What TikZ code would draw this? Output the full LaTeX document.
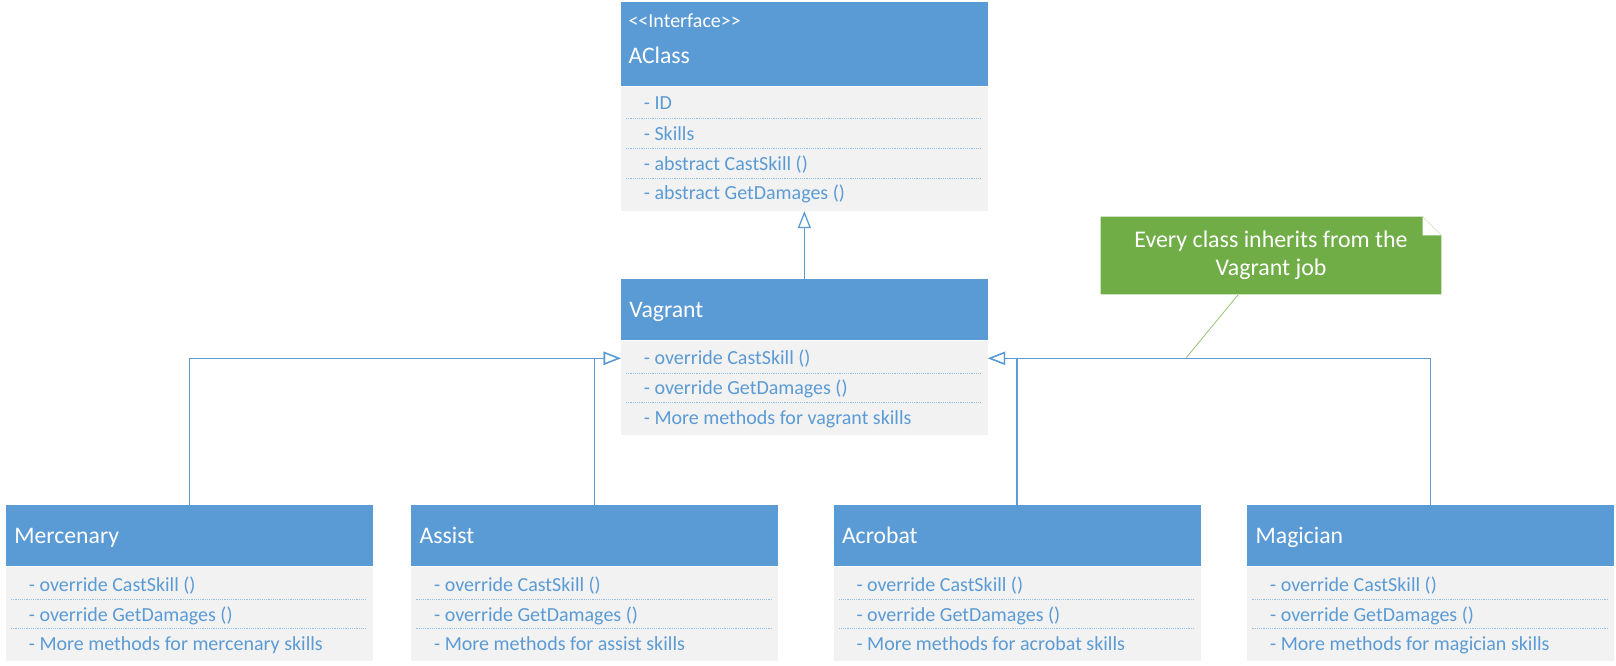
\documentclass[tikz,border=0pt]{standalone}
\usepackage{fontspec}
\setmainfont{Carlito}
\usetikzlibrary{calc,arrows.meta}
\definecolor{hdblue}{HTML}{5B9BD5}
\definecolor{bodygray}{HTML}{F2F2F2}
\definecolor{notegreen}{HTML}{70AD47}

\begin{document}
\begin{tikzpicture}
      [x=1pt,y=-1pt
    % эти стили задают вид классов
      ,head/.style={fill=hdblue,text=white,anchor=north west,minimum width=367pt,minimum height=61pt,text width=350pt,text height=21pt,text depth=5pt,inner xsep=8.5pt,inner ysep=0pt,align=left,font=\fontsize{23.7}{28.3}\selectfont}
      ,body/.style={fill=bodygray,anchor=north west,minimum width=367pt,minimum height=94pt,inner sep=0pt}
      ,row/.style={anchor=west,inner sep=0pt,text height=17pt,text depth=4.3pt,text=hdblue,font=\fontsize{20}{23}\selectfont}
      ,sep/.style={draw=hdblue!65,line width=1pt,dash pattern=on 1.2pt off 1pt}
      ,inherit/.style={draw=hdblue,line width=1.3pt,-{Triangle[open,length=17pt,width=13pt]}}
      ,notetext/.style={text=white,align=center,minimum width=340.6pt,minimum height=77.6pt,inner sep=0pt,font=\fontsize{23.9}{28.3}\selectfont}
      ]
        \useasboundingbox (0,0) rectangle (1616,666);

    % интерфейс
        \coordinate (A) at (620.7,1.7);
        \node[head,minimum height=84.3pt] (aclass) at (A) {};
        \node[row,text=white] (aclass-st) at ($(A)+(7.6,19.3)$) {{<}{<}Interface{>}{>}};
        \node[row,text=white,text height=21pt,text depth=5pt,font=\fontsize{23.7}{28.3}\selectfont] (aclass-t) at ($(A)+(7.6,54.3)$) {AClass};
        \node[body,minimum height=124.3pt] (aclass-b) at (aclass.south west) {};
        \node[row] (aclass-r1) at ($(A)+(23,101.3)$) {- ID};
        \node[row] (aclass-r2) at ($(A)+(23,132.3)$) {- Skills};
        \node[row] (aclass-r3) at ($(A)+(23,162.3)$) {- abstract CastSkill ()};
        \node[row] (aclass-r4) at ($(A)+(23,191.3)$) {- abstract GetDamages ()};
        \draw[sep] ($(A)+(5.3,116.6)$) -- +(355.7,0);
        \draw[sep] ($(A)+(5.3,146.6)$) -- +(355.7,0);
        \draw[sep] ($(A)+(5.3,176.6)$) -- +(355.7,0);

    % базовый класс
        \coordinate (A) at (620.7,279);
        \node[head] (vagrant) at (A) {Vagrant};
        \node[body] (vagrant-b) at (vagrant.south west) {};
        \node[row] (vagrant-r1) at ($(A)+(23,79.3)$) {- override CastSkill ()};
        \node[row] (vagrant-r2) at ($(A)+(23,109.3)$) {- override GetDamages ()};
        \node[row] (vagrant-r3) at ($(A)+(23,138.7)$) {- More methods for vagrant skills};
        \draw[sep] ($(A)+(5.3,94.2)$) -- +(355.7,0);
        \draw[sep] ($(A)+(5.3,123.9)$) -- +(355.7,0);

    % классы-наследники
        \coordinate (A) at (5.7,505);
        \node[head] (merc) at (A) {Mercenary};
        \node[body] (merc-b) at (merc.south west) {};
        \node[row] (merc-r1) at ($(A)+(23,80.5)$) {- override CastSkill ()};
        \node[row] (merc-r2) at ($(A)+(23,110)$) {- override GetDamages ()};
        \node[row] (merc-r3) at ($(A)+(23,139.3)$) {- More methods for mercenary skills};
        \draw[sep] ($(A)+(5.3,94.2)$) -- +(355.7,0);
        \draw[sep] ($(A)+(5.3,123.9)$) -- +(355.7,0);

        \coordinate (A) at (411,505);
        \node[head] (assist) at (A) {Assist};
        \node[body] (assist-b) at (assist.south west) {};
        \node[row] (assist-r1) at ($(A)+(23,80.5)$) {- override CastSkill ()};
        \node[row] (assist-r2) at ($(A)+(23,110)$) {- override GetDamages ()};
        \node[row] (assist-r3) at ($(A)+(23,139.3)$) {- More methods for assist skills};
        \draw[sep] ($(A)+(5.3,94.2)$) -- +(355.7,0);
        \draw[sep] ($(A)+(5.3,123.9)$) -- +(355.7,0);

        \coordinate (A) at (833.3,505);
        \node[head] (acro) at (A) {Acrobat};
        \node[body] (acro-b) at (acro.south west) {};
        \node[row] (acro-r1) at ($(A)+(23,80.5)$) {- override CastSkill ()};
        \node[row] (acro-r2) at ($(A)+(23,110)$) {- override GetDamages ()};
        \node[row] (acro-r3) at ($(A)+(23,139.3)$) {- More methods for acrobat skills};
        \draw[sep] ($(A)+(5.3,94.2)$) -- +(355.7,0);
        \draw[sep] ($(A)+(5.3,123.9)$) -- +(355.7,0);

        \coordinate (A) at (1247,505);
        \node[head] (magic) at (A) {Magician};
        \node[body] (magic-b) at (magic.south west) {};
        \node[row] (magic-r1) at ($(A)+(23,80.5)$) {- override CastSkill ()};
        \node[row] (magic-r2) at ($(A)+(23,110)$) {- override GetDamages ()};
        \node[row] (magic-r3) at ($(A)+(23,139.3)$) {- More methods for magician skills};
        \draw[sep] ($(A)+(5.3,94.2)$) -- +(355.7,0);
        \draw[sep] ($(A)+(5.3,123.9)$) -- +(355.7,0);

    % стрелки наследования
        \draw[inherit] (vagrant.north) -- (aclass-b.south);
        \draw[inherit] (merc.north) |- (vagrant-r1 -| vagrant.west);
        \draw[inherit] (assist.north) |- (vagrant-r1 -| vagrant.west);
        \draw[inherit] (acro.north) |- (vagrant-r1 -| vagrant.east);
        \draw[inherit] (magic.north) |- (vagrant-r1 -| vagrant.east);

    % заметка с загнутым углом
        \coordinate (N) at (1100.7,216.7);
        \fill[notegreen] (N) -- ++(322,0) -- ++(18.7,18.7) -- ++(0,59) -- ++(-340.7,0) -- cycle;
        \fill[white] ($(N)+(322,0)$) -- ++(0,18.7) -- ++(18.7,0) -- cycle;
        \draw[notegreen!50,line width=.8pt,dotted] ($(N)+(322,0)$) -- ++(18.7,18.7);
        \node[notetext] (note) at (1271,255.5) {Every class inherits from the\\Vagrant job};
        \coordinate (pin) at (1186,358);
        \draw[notegreen!75,line width=.8pt] ([xshift=-32.7pt]note.south) -- (pin);
       \end{tikzpicture}
\end{document}
